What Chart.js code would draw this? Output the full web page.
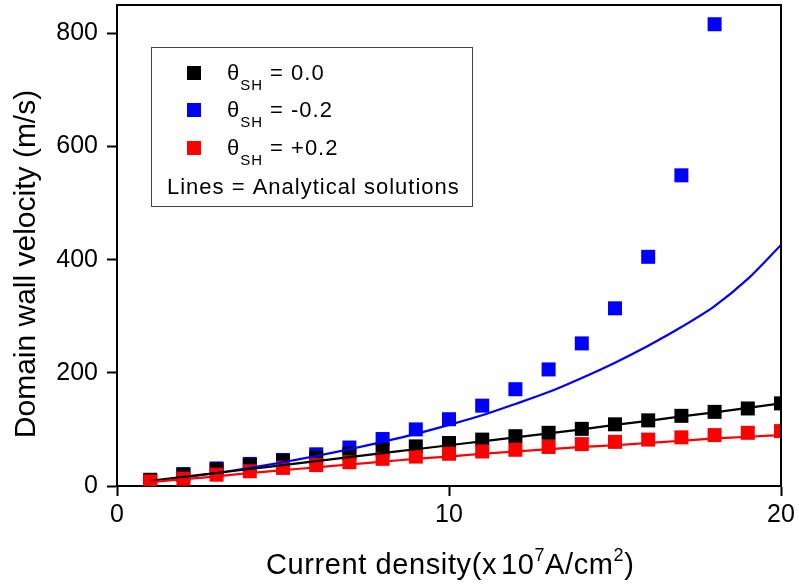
<!DOCTYPE html>
<html>
<head>
<meta charset="utf-8">
<script src="https://cdn.jsdelivr.net/npm/chart.js@4/dist/chart.umd.min.js"></script>
<style>
  html, body { margin: 0; padding: 0; background: #fff; }
  #wrap { width: 799px; height: 588px; }
</style>
</head>
<body>
<div id="wrap"><canvas id="chart" width="799" height="588"></canvas></div>
<script>
// current density (x10^7 A/cm^2)
const J = [1, 2, 3, 4, 5, 6, 7, 8, 9, 10, 11, 12, 13, 14, 15, 16, 17, 18, 19, 20];

// simulated domain wall velocity (m/s), squares
const SIM_ZERO = [11, 20, 29, 37, 44, 50, 57, 64, 70, 76, 82, 88, 94, 101, 109, 116, 124, 131, 137, 146];
const SIM_NEG = [9, 21, 31, 39, 46, 56, 68, 83, 100, 118, 142, 171, 206, 252, 314, 405, 549, 816];
const SIM_POS = [8, 13, 20, 26, 32, 37, 42, 48, 52, 57, 61, 64, 69, 74, 78, 82, 86, 90, 94, 97];

// analytical solutions, lines
const ANA_ZERO = [9, 16, 23, 30, 37, 44, 51, 58, 65, 72, 79, 86, 93, 100, 108, 115, 123, 130, 138, 146];
const ANA_NEG = [7, 15, 23, 32, 42, 53, 65, 78, 92, 108, 125, 145, 166, 191, 218, 248, 281, 318, 366, 426];
const ANA_POS = [7, 12, 17, 23, 28, 33, 38, 43, 48, 52, 57, 61, 65, 69, 72, 76, 80, 84, 87, 90];

const X_TICKS = [0, 10, 20];
const Y_TICKS = [0, 200, 400, 600, 800];

const LEGEND_VALUES = ['= 0.0', '= -0.2', '= +0.2'];
const LEGEND_COLORS = ['#000000', '#0000ff', '#ff0000'];
const LEGEND_NOTE = 'Lines = Analytical solutions';

const FONT = '"Liberation Sans", Arial, sans-serif';

const pts = ys => ys.map((y, i) => ({ x: J[i], y }));

function lineSet(data, color, order) {
  return {
    type: 'line', data: pts(data), borderColor: color, borderWidth: 2.2,
    pointRadius: 0, fill: false, tension: 0.3, order,
  };
}
function simSet(data, color, order) {
  return {
    type: 'scatter', data: pts(data), backgroundColor: color, borderColor: color,
    borderWidth: 0, pointStyle: 'rect', pointRadius: 9.9, pointHoverRadius: 9.9, order,
  };
}

// top / right frame, axis titles and the legend box
const decor = {
  id: 'decor',
  afterDraw(chart) {
    const { ctx, chartArea: a } = chart;
    ctx.save();
    ctx.strokeStyle = '#000';
    ctx.lineWidth = 2;
    ctx.beginPath();
    ctx.moveTo(a.left, a.top);
    ctx.lineTo(a.right, a.top);
    ctx.lineTo(a.right, a.bottom);
    ctx.stroke();

    ctx.fillStyle = '#000';
    ctx.textBaseline = 'alphabetic';

    // y title
    ctx.save();
    ctx.translate(35, 264);
    ctx.rotate(-Math.PI / 2);
    ctx.font = `30px ${FONT}`;
    ctx.textAlign = 'center';
    ctx.fillText('Domain wall velocity (m/s)', 0, 0);
    ctx.restore();

    // x title with superscripts
    ctx.textAlign = 'left';
    ctx.letterSpacing = '0.6px';
    let x = 266, base = 574;
    const big = `29px ${FONT}`, sup = `18px ${FONT}`;
    const parts = [['Current density(x', big, 0], ['10', big, 0], ['7', sup, -13], ['A/cm', big, 0], ['2', sup, -13], [')', big, 0]];
    for (const [t, f, dy] of parts) {
      ctx.font = f;
      ctx.fillText(t, x, base + dy);
      x += ctx.measureText(t).width + (t === 'Current density(x' ? 4 : 0);
    }

    // legend
    ctx.letterSpacing = '1px';
    ctx.strokeStyle = '#444';
    ctx.lineWidth = 1;
    ctx.strokeRect(151.5, 47.5, 321, 159);
    const rows = [73, 110, 148];
    rows.forEach((ry, i) => {
      ctx.fillStyle = LEGEND_COLORS[i];
      ctx.fillRect(187, ry - 7, 14, 14);
      ctx.fillStyle = '#000';
      ctx.font = `22px ${FONT}`;
      ctx.fillText('θ', 227, ry + 7);
      let tx = 227 + ctx.measureText('θ').width;
      ctx.font = `15px ${FONT}`;
      ctx.fillText('SH', tx, ry + 17);
      tx += ctx.measureText('SH').width + 7;
      ctx.font = `22px ${FONT}`;
      ctx.fillText(LEGEND_VALUES[i], tx, ry + 7);
    });
    ctx.font = `22px ${FONT}`;
    ctx.fillText(LEGEND_NOTE, 167, 194);
    ctx.restore();
  },
};

new Chart(document.getElementById('chart'), {
  data: {
    datasets: [
      lineSet(ANA_POS, '#ff0000', 1),
      lineSet(ANA_ZERO, '#000000', 2),
      lineSet(ANA_NEG, '#0000ff', 3),
      simSet(SIM_POS, '#ff0000', 4),
      simSet(SIM_ZERO, '#000000', 5),
      simSet(SIM_NEG, '#0000ff', 6),
    ],
  },
  options: {
    responsive: false,
    animation: false,
    events: [],
    layout: { autoPadding: false, padding: { left: 0, top: 5, right: 18, bottom: 0 } },
    plugins: { legend: { display: false }, tooltip: { enabled: false } },
    scales: {
      x: {
        type: 'linear', min: 0, max: 20,
        afterFit: s => { s.height = 102; s.paddingLeft = 0; s.paddingRight = 0; },
        afterBuildTicks: s => { s.ticks = X_TICKS.map(v => ({ value: v })); },
        border: { color: '#000', width: 2 },
        grid: { drawOnChartArea: false, tickLength: 10, tickColor: '#000', tickWidth: 2 },
        ticks: { color: '#000', padding: 4, maxRotation: 0, font: { family: FONT, size: 25 } },
      },
      y: {
        type: 'linear', min: 0, max: 850,
        afterFit: s => { s.width = 117; s.paddingTop = 0; s.paddingBottom = 0; },
        afterBuildTicks: s => { s.ticks = Y_TICKS.map(v => ({ value: v })); },
        border: { color: '#000', width: 2 },
        grid: { drawOnChartArea: false, tickLength: 10, tickColor: '#000', tickWidth: 2 },
        ticks: { color: '#000', padding: 9, font: { family: FONT, size: 25 } },
      },
    },
  },
  plugins: [decor],
});
</script>
</body>
</html>
